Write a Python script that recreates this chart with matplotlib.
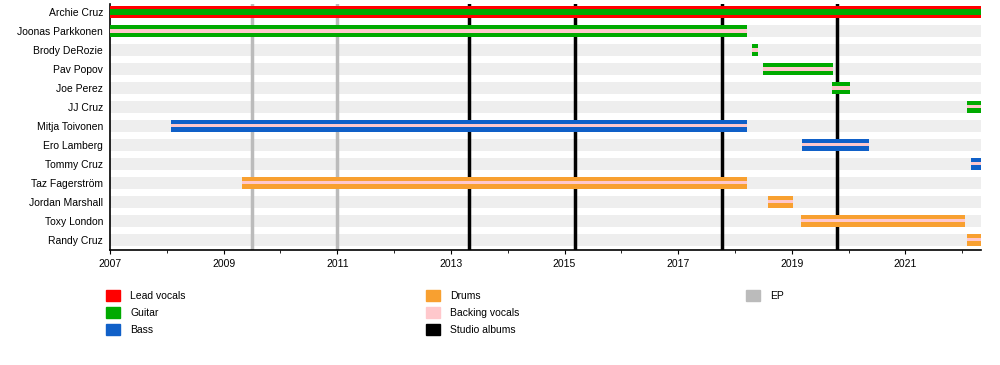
import matplotlib.pyplot as plt
from matplotlib.patches import Patch

plt.rcParams['font.family'] = ['Liberation Sans', 'DejaVu Sans']

END = 2022.33

members = ["Archie Cruz", "Joonas Parkkonen", "Brody DeRozie", "Pav Popov",
           "Joe Perez", "JJ Cruz", "Mitja Toivonen", "Ero Lamberg",
           "Tommy Cruz", "Taz Fagerström", "Jordan Marshall", "Toxy London",
           "Randy Cruz"]
starts = [2007.0, 2007.0, 2018.30, 2018.50, 2019.70, 2022.08, 2008.07,
          2019.18, 2022.15, 2009.33, 2018.58, 2019.16, 2022.08]
ends = [END, 2018.22, 2018.40, 2019.72, 2020.02, END, 2018.22,
        2020.36, END, 2018.22, 2019.02, 2022.05, END]
main_role = ["Lead vocals", "Guitar", "Guitar", "Guitar", "Guitar", "Guitar",
             "Bass", "Bass", "Bass", "Drums", "Drums", "Drums", "Drums"]
inner_role = ["Guitar", "Backing vocals", "Backing vocals", "Backing vocals",
              "Backing vocals", "Backing vocals", "Backing vocals",
              "Backing vocals", "Backing vocals", "Backing vocals",
              "Backing vocals", "Backing vocals", "Backing vocals"]

ep_dates = [2009.5, 2011.0]
album_dates = [2013.31, 2015.18, 2017.77, 2019.79]

colors = {
    "Lead vocals": "#ff0000",
    "Guitar": "#00aa00",
    "Bass": "#1060c8",
    "Drums": "#f8a030",
    "Backing vocals": "#ffc8cc",
    "Studio albums": "#000000",
    "EP": "#bbbbbb",
}

fig = plt.figure(figsize=(10, 3.65), dpi=100)
ax = fig.add_axes([0.11, 0.315, 0.871, 0.674])

n = len(members)
bar_h = 0.63
for i in range(n):
    ax.barh(i, END - 2007, left=2007, height=bar_h, color="#eeeeee", zorder=1)

for d in ep_dates:
    ax.axvline(d, color=colors["EP"], lw=2.5, zorder=2)
for d in album_dates:
    ax.axvline(d, color=colors["Studio albums"], lw=2.5, zorder=2)

for i in range(n):
    w = ends[i] - starts[i]
    ax.barh(i, w, left=starts[i], height=bar_h,
            color=colors[main_role[i]], zorder=3)
    ih = 0.36 if inner_role[i] == "Guitar" else 0.16
    ax.barh(i, w, left=starts[i], height=ih,
            color=colors[inner_role[i]], zorder=4)

ax.set_xlim(2007, END)
ax.set_ylim(n - 1 + 0.53, -0.42)
ax.set_yticks(range(n))
ax.set_yticklabels(members, fontsize=7.5)
ax.tick_params(axis="y", length=0, pad=5)
ax.set_xticks(range(2007, 2022, 2))
ax.set_xticks(range(2007, 2023), minor=True)
ax.tick_params(axis="x", labelsize=7.5, length=3, direction="out")
ax.tick_params(axis="x", which="minor", length=2)
for s in ["top", "right"]:
    ax.spines[s].set_visible(False)
ax.spines["left"].set_linewidth(1.2)
ax.spines["bottom"].set_linewidth(1.2)

legend_cols = [["Lead vocals", "Guitar", "Bass"],
               ["Drums", "Backing vocals", "Studio albums"],
               ["EP"]]
xs = [0.108, 0.428, 0.748]
for col, x in zip(legend_cols, xs):
    handles = [Patch(color=colors[k]) for k in col]
    leg = fig.legend(handles, col, loc="upper left",
                     bbox_to_anchor=(x - 0.006, 0.218), frameon=False,
                     fontsize=7.5, handlelength=1.3, handleheight=1.3,
                     handletextpad=1.0, labelspacing=0.55, borderaxespad=0)

fig.savefig("out.png", dpi=100)
